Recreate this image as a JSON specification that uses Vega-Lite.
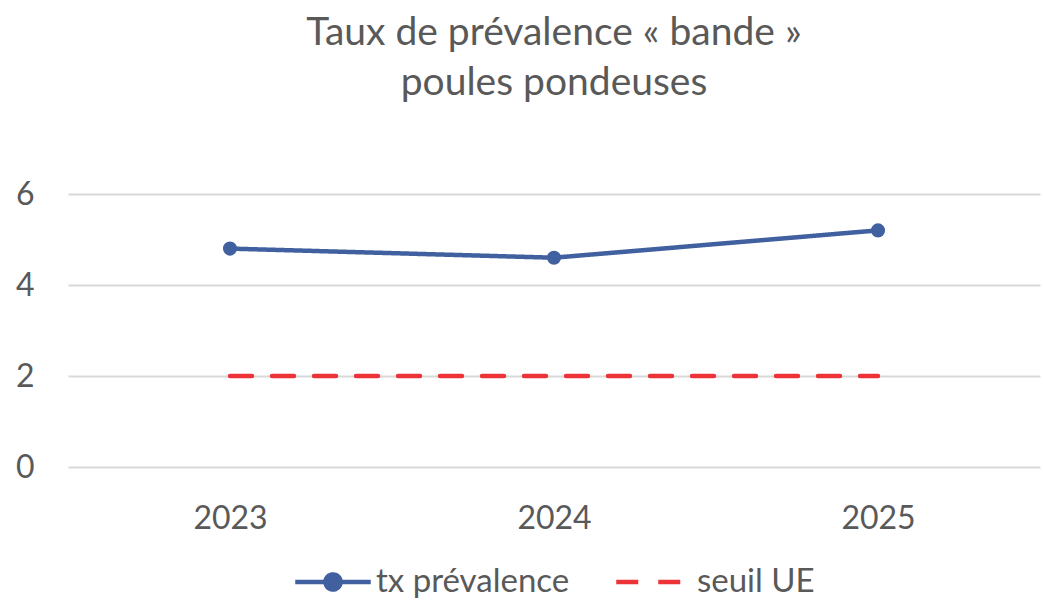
{
  "$schema": "https://vega.github.io/schema/vega-lite/v6.json",
  "width": 972,
  "height": 273,
  "autosize": {"type": "none"},
  "padding": {"left": 68, "top": 194, "right": 3, "bottom": 133},
  "background": "white",
  "title": {
    "text": ["Taux de prévalence « bande »", "poules pondeuses"],
    "fontSize": 39,
    "font": "Lato",
    "fontWeight": "normal",
    "color": "#595959",
    "lineHeight": 50,
    "offset": 75,
    "anchor": "middle"
  },
  "config": {
    "font": "Lato",
    "view": {"stroke": null},
    "legend": {"layout": {"bottom": {"anchor": "middle"}}}
  },
  "data": {
    "values": [
      {"annee": "2023", "serie": "tx prévalence", "valeur": 4.8},
      {"annee": "2024", "serie": "tx prévalence", "valeur": 4.6},
      {"annee": "2025", "serie": "tx prévalence", "valeur": 5.2},
      {"annee": "2023", "serie": "seuil UE", "valeur": 2},
      {"annee": "2024", "serie": "seuil UE", "valeur": 2},
      {"annee": "2025", "serie": "seuil UE", "valeur": 2}
    ]
  },
  "encoding": {
    "x": {
      "field": "annee",
      "type": "ordinal",
      "scale": {"type": "point", "padding": 0.5},
      "axis": {
        "title": null,
        "labelAngle": 0,
        "labelFontSize": 32,
        "labelColor": "#595959",
        "labelPadding": 36,
        "ticks": false,
        "domain": false,
        "grid": false
      }
    },
    "y": {
      "field": "valeur",
      "type": "quantitative",
      "scale": {"domain": [0, 6], "nice": false},
      "axis": {
        "title": null,
        "values": [0, 2, 4, 6],
        "labelFontSize": 32,
        "labelColor": "#595959",
        "labelPadding": 34,
        "ticks": false,
        "domain": false,
        "gridColor": "#d9d9d9",
        "gridWidth": 2
      }
    },
    "color": {
      "field": "serie",
      "type": "nominal",
      "scale": {"domain": ["tx prévalence", "seuil UE"], "range": ["#4160a0", "#ee3338"]},
      "legend": {
        "title": null,
        "orient": "bottom",
        "direction": "horizontal",
        "offset": 8,
        "labelFontSize": 33,
        "labelLimit": 400,
        "labelColor": "#595959",
        "symbolType": "stroke",
        "symbolSize": 5700,
        "symbolStrokeWidth": 4.5,
        "columnPadding": 37,
        "labelOffset": 3,
        "encode": {
          "symbols": {
            "update": {
              "shape": {"signal": "datum.value === 'tx prévalence' ? 'M-1,0H1M0.2,0A0.2,0.2,0,1,1,-0.2,0A0.2,0.2,0,1,1,0.2,0' : 'stroke'"},
              "fill": {"signal": "datum.value === 'tx prévalence' ? '#4160a0' : 'transparent'"}
            }
          }
        }
      }
    },
    "strokeDash": {
      "field": "serie",
      "type": "nominal",
      "scale": {"domain": ["tx prévalence", "seuil UE"], "range": [[1, 0], [22, 20]]},
      "legend": null
    }
  },
  "layer": [
    {
      "mark": {"type": "line", "strokeWidth": 4.5, "strokeCap": "round"}
    },
    {
      "transform": [{"filter": "datum.serie === 'tx prévalence'"}],
      "mark": {"type": "point", "filled": true, "size": 200, "opacity": 1},
      "encoding": {"strokeDash": null}
    }
  ]
}
